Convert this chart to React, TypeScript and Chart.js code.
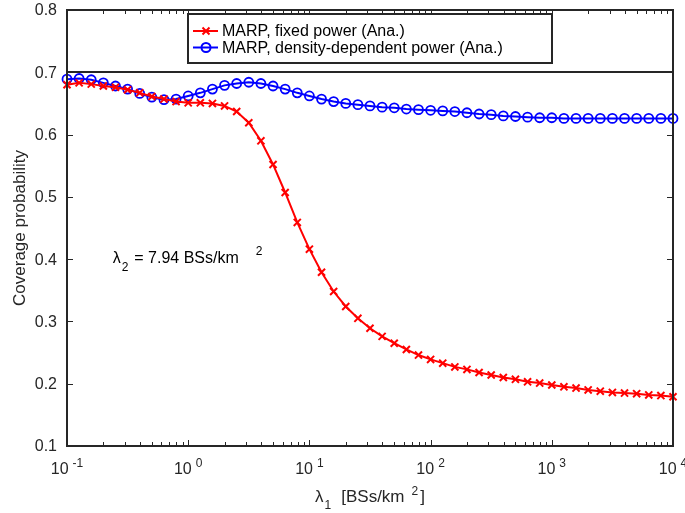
import React, { useEffect, useRef } from "react";
import { Chart, registerables } from "chart.js";

Chart.register(...registerables);

// ---- data ----
const lambda1 = [
  0.1, 0.1259, 0.1585, 0.1995, 0.2512, 0.3162, 0.3981, 0.5012, 0.631, 0.7943,
  1, 1.259, 1.585, 1.995, 2.512, 3.162, 3.981, 5.012, 6.31, 7.943,
  10, 12.59, 15.85, 19.95, 25.12, 31.62, 39.81, 50.12, 63.1, 79.43,
  100, 125.9, 158.5, 199.5, 251.2, 316.2, 398.1, 501.2, 631, 794.3,
  1000, 1259, 1585, 1995, 2512, 3162, 3981, 5012, 6310, 7943, 10000,
];
const fixedPower = [
  0.68, 0.683, 0.681, 0.678, 0.676, 0.672, 0.667, 0.661, 0.657, 0.653,
  0.651, 0.651, 0.65, 0.646, 0.637, 0.619, 0.59, 0.552, 0.507, 0.459,
  0.416, 0.379, 0.348, 0.324, 0.305, 0.289, 0.276, 0.265, 0.255, 0.246,
  0.239, 0.233, 0.227, 0.223, 0.218, 0.214, 0.21, 0.207, 0.203, 0.201,
  0.198, 0.195, 0.193, 0.19, 0.188, 0.186, 0.185, 0.184, 0.182, 0.181, 0.179,
];
const densityPower = [
  0.689, 0.69, 0.688, 0.683, 0.678, 0.673, 0.666, 0.66, 0.656, 0.657,
  0.662, 0.667, 0.673, 0.679, 0.682, 0.684, 0.682, 0.678, 0.673, 0.667,
  0.662, 0.657, 0.653, 0.65, 0.648, 0.646, 0.644, 0.643, 0.641, 0.64,
  0.639, 0.638, 0.637, 0.635, 0.633, 0.632, 0.63, 0.629, 0.628, 0.627,
  0.627, 0.626, 0.626, 0.626, 0.626, 0.626, 0.626, 0.626, 0.626, 0.626, 0.626,
];
const yTickValues = [0.1, 0.2, 0.3, 0.4, 0.5, 0.6, 0.7, 0.8];
const yTickLabels = ["0.1", "0.2", "0.3", "0.4", "0.5", "0.6", "0.7", "0.8"];
const xDecadeExponents = [-1, 0, 1, 2, 3, 4];
const legendLabels = [
  "MARP, fixed power (Ana.)",
  "MARP, density-dependent power (Ana.)",
];
const yTitle = "Coverage probability";
const refLineValue = 0.7;
const annotationX = 0.238;
const annotationY = 0.403;

const FONT = '"Liberation Sans", Arial, Helvetica, sans-serif';
const AXIS = "#262626";
const RED = "rgb(255,0,0)";
const BLUE = "rgb(0,0,255)";

type Part = { t: string; size: number; dy: number; gap: number; color?: string };

function richWidth(ctx: CanvasRenderingContext2D, parts: Part[]) {
  let w = 0;
  parts.forEach((p) => {
    ctx.font = `${p.size}px ${FONT}`;
    w += p.gap + ctx.measureText(p.t).width;
  });
  return w;
}
function drawRich(ctx: CanvasRenderingContext2D, parts: Part[], x: number, baseline: number, color: string) {
  let cx = x;
  ctx.textAlign = "left";
  ctx.textBaseline = "alphabetic";
  parts.forEach((p) => {
    cx += p.gap;
    ctx.font = `${p.size}px ${FONT}`;
    ctx.fillStyle = p.color || color;
    ctx.fillText(p.t, cx, baseline + p.dy);
    cx += ctx.measureText(p.t).width;
  });
}

function drawCross(ctx: CanvasRenderingContext2D, x: number, y: number, r: number) {
  ctx.beginPath();
  ctx.moveTo(x - r, y - r);
  ctx.lineTo(x + r, y + r);
  ctx.moveTo(x - r, y + r);
  ctx.lineTo(x + r, y - r);
  ctx.stroke();
}

const decor = {
  id: "decor",
  beforeDatasetsDraw(chart: any) {
    const { ctx, chartArea: a, scales } = chart;
    const y = scales.y;
    const yy = Math.round(y.getPixelForValue(refLineValue));
    ctx.save();
    ctx.strokeStyle = AXIS;
    ctx.lineWidth = 2;
    ctx.beginPath();
    ctx.moveTo(a.left, yy);
    ctx.lineTo(a.right, yy);
    ctx.stroke();
    ctx.restore();
  },
  afterDatasetsDraw(chart: any) {
    const { ctx, chartArea: a, scales } = chart;
    const x = scales.x;
    const y = scales.y;
    ctx.save();
    ctx.strokeStyle = AXIS;
    ctx.lineWidth = 1;
    // y ticks (inside)
    yTickValues.forEach((v) => {
      const py = Math.round(y.getPixelForValue(v)) + 0.5;
      ctx.beginPath();
      ctx.moveTo(a.left, py);
      ctx.lineTo(a.left + 6, py);
      ctx.moveTo(a.right, py);
      ctx.lineTo(a.right - 6, py);
      ctx.stroke();
    });
    // x ticks
    xDecadeExponents.forEach((e, idx) => {
      const base = Math.pow(10, e);
      const px = Math.round(x.getPixelForValue(base)) + 0.5;
      ctx.beginPath();
      ctx.moveTo(px, a.bottom);
      ctx.lineTo(px, a.bottom - 6);
      ctx.moveTo(px, a.top);
      ctx.lineTo(px, a.top + 6);
      ctx.stroke();
      if (idx < xDecadeExponents.length - 1) {
        for (let m = 2; m <= 9; m++) {
          const mx = Math.round(x.getPixelForValue(m * base)) + 0.5;
          ctx.beginPath();
          ctx.moveTo(mx, a.bottom);
          ctx.lineTo(mx, a.bottom - 4);
          ctx.moveTo(mx, a.top);
          ctx.lineTo(mx, a.top + 4);
          ctx.stroke();
        }
      }
    });
    // box
    ctx.lineWidth = 2;
    ctx.strokeRect(a.left, a.top, a.right - a.left, a.bottom - a.top);
    ctx.restore();
  },
  afterDraw(chart: any) {
    const { ctx, chartArea: a, scales } = chart;
    const x = scales.x;
    const y = scales.y;
    ctx.save();
    // y tick labels
    ctx.font = `16px ${FONT}`;
    ctx.fillStyle = AXIS;
    ctx.textAlign = "right";
    ctx.textBaseline = "middle";
    yTickValues.forEach((v, i) => {
      ctx.fillText(yTickLabels[i], a.left - 10, y.getPixelForValue(v) + 1);
    });
    // x tick labels
    xDecadeExponents.forEach((e) => {
      const px = x.getPixelForValue(Math.pow(10, e));
      const parts: Part[] = [
        { t: "10", size: 16, dy: 0, gap: 0 },
        { t: String(e), size: 12, dy: -7, gap: 4 },
      ];
      const w = richWidth(ctx, parts);
      drawRich(ctx, parts, px - w / 2, a.bottom + 28, AXIS);
    });
    // x title
    const xt: Part[] = [
      { t: "\u03bb", size: 17, dy: 0, gap: 0 },
      { t: "1", size: 12, dy: 7, gap: 1 },
      { t: "[BSs/km", size: 17, dy: 0, gap: 10 },
      { t: "2", size: 12, dy: -7, gap: 7 },
      { t: "]", size: 17, dy: 0, gap: 2 },
    ];
    const xtw = richWidth(ctx, xt);
    drawRich(ctx, xt, (a.left + a.right) / 2 - xtw / 2, a.bottom + 56, AXIS);
    // y title
    ctx.save();
    ctx.translate(25, (a.top + a.bottom) / 2);
    ctx.rotate(-Math.PI / 2);
    ctx.font = `17px ${FONT}`;
    ctx.fillStyle = AXIS;
    ctx.textAlign = "center";
    ctx.textBaseline = "alphabetic";
    ctx.fillText(yTitle, 0, 0);
    ctx.restore();
    // annotation
    const ann: Part[] = [
      { t: "\u03bb", size: 16, dy: 0, gap: 0 },
      { t: "2", size: 12, dy: 8, gap: 1 },
      { t: "= 7.94 BSs/km", size: 16, dy: 0, gap: 6 },
      { t: "2", size: 12, dy: -8, gap: 17 },
    ];
    drawRich(ctx, ann, x.getPixelForValue(annotationX), y.getPixelForValue(annotationY) + 5.5, "#000");
    // legend
    const lx = 188, ly = 14, lw = 364, lh = 49;
    ctx.fillStyle = "#fff";
    ctx.fillRect(lx, ly, lw, lh);
    ctx.strokeStyle = AXIS;
    ctx.lineWidth = 2;
    ctx.strokeRect(lx, ly, lw, lh);
    const rows = [31, 47.5];
    rows.forEach((ry, i) => {
      const col = i === 0 ? RED : BLUE;
      ctx.strokeStyle = col;
      ctx.lineWidth = 2;
      ctx.beginPath();
      ctx.moveTo(lx + 5, ry);
      ctx.lineTo(lx + 30, ry);
      ctx.stroke();
      if (i === 0) {
        drawCross(ctx, lx + 18, ry, 3.5);
      } else {
        ctx.beginPath();
        ctx.arc(lx + 18, ry, 4.5, 0, Math.PI * 2);
        ctx.stroke();
      }
      ctx.fillStyle = "#000";
      ctx.font = `16px ${FONT}`;
      ctx.textAlign = "left";
      ctx.textBaseline = "middle";
      ctx.fillText(legendLabels[i], lx + 34, ry + 1);
    });
    ctx.restore();
  },
};

export default function App() {
  const ref = useRef<HTMLCanvasElement | null>(null);
  useEffect(() => {
    if (!ref.current) return;
    const chart = new Chart(ref.current, {
      type: "line",
      data: {
        datasets: [
          {
            label: legendLabels[0],
            data: lambda1.map((v, i) => ({ x: v, y: fixedPower[i] })),
            borderColor: RED,
            backgroundColor: RED,
            borderWidth: 2,
            pointStyle: "crossRot",
            pointRadius: 5,
            pointBorderWidth: 2,
            pointBorderColor: RED,
            tension: 0,
            clip: false as any,
          },
          {
            label: legendLabels[1],
            data: lambda1.map((v, i) => ({ x: v, y: densityPower[i] })),
            borderColor: BLUE,
            backgroundColor: "rgba(0,0,0,0)",
            borderWidth: 2,
            pointStyle: "circle",
            pointRadius: 4.5,
            pointBorderWidth: 1.8,
            pointBorderColor: BLUE,
            pointBackgroundColor: "rgba(0,0,0,0)",
            tension: 0,
            clip: false as any,
          },
        ],
      },
      options: {
        responsive: false,
        devicePixelRatio: 1,
        animation: false,
        layout: { padding: { top: 10, right: 12, left: 0, bottom: 0 } },
        plugins: { legend: { display: false }, tooltip: { enabled: false } },
        scales: {
          x: {
            type: "logarithmic",
            min: 0.1,
            max: 10000,
            grid: { display: false, drawTicks: false },
            border: { display: false },
            ticks: { display: false },
            afterFit: (s: any) => {
              s.height = 67;
            },
          },
          y: {
            type: "linear",
            min: 0.1,
            max: 0.8,
            grid: { display: false, drawTicks: false },
            border: { display: false },
            ticks: { display: false, stepSize: 0.1 },
            afterFit: (s: any) => {
              s.width = 67;
            },
          },
        },
      },
      plugins: [decor],
    });
    return () => chart.destroy();
  }, []);
  return (
    <div style={{ position: "absolute", left: 0, top: 0, width: 685, height: 513, background: "#fff" }}>
      <canvas ref={ref} width={685} height={513} style={{ display: "block" }} />
    </div>
  );
}
